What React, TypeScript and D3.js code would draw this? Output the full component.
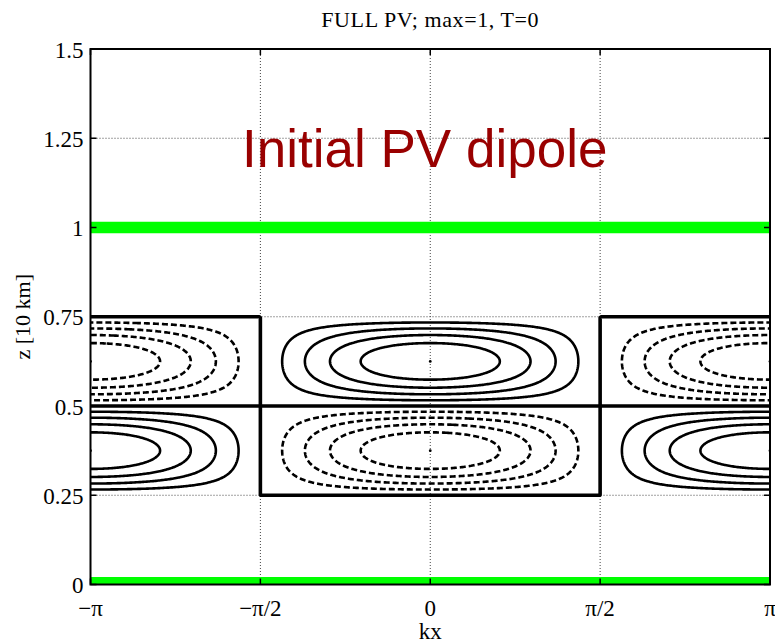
import { useMemo } from 'react';
import * as d3 from 'd3';

const width = 775,
  height = 643;
const MARGIN = { top: 49, right: 5, bottom: 58.5, left: 90.5 };

// axis ticks
const xTicks = [-Math.PI, -Math.PI / 2, 0, Math.PI / 2, Math.PI];
const xTickLabels = ['−π', '−π/2', '0', 'π/2', 'π'];
const zTicks = [0, 0.25, 0.5, 0.75, 1, 1.25, 1.5];
const zTickLabels = ['0', '0.25', '0.5', '0.75', '1', '1.25', '1.5'];

// PV anomaly: amplitude and the layer it lives in
const pvMax = 1;
const layerBottom = 0.25;
const layerTop = 0.75;
const posLevels = [0.2, 0.4, 0.6, 0.8];
const negLevels = [-0.2, -0.4, -0.6, -0.8];
const extremaKx = [-Math.PI, 0, Math.PI];
const extremaZ = [0.375, 0.625];

// green horizontal lines (ground and tropopause)
const greenLevels = [1, 0];

const annotation = { label: 'Initial PV dipole', kx: -1.74, z: 1.17 };

const pv = (kx: number, z: number) => {
  if (z <= layerBottom || z >= layerTop) return 0;
  const s = (z - (layerBottom + layerTop) / 2) / (layerTop - (layerBottom + layerTop) / 2);
  return pvMax * Math.cos(kx) * Math.sin(Math.PI * s);
};

export default function App() {
  const boundsWidth = width - MARGIN.left - MARGIN.right;
  const boundsHeight = height - MARGIN.top - MARGIN.bottom;

  const xScale = d3.scaleLinear().domain([-Math.PI, Math.PI]).range([0, boundsWidth]);
  const yScale = d3.scaleLinear().domain([0, 1.5]).range([boundsHeight, 0]);

  const paths = useMemo(() => {
    // grid a bit wider than the axes so contours leave through the clip
    const nx = 601,
      nz = 241;
    const x0 = -Math.PI - 0.4,
      x1 = Math.PI + 0.4;
    const z0 = 0.2,
      z1 = 0.8;
    const dx = (x1 - x0) / (nx - 1);
    const dz = (z1 - z0) / (nz - 1);
    const values = new Array(nx * nz);
    for (let j = 0; j < nz; j++) {
      for (let i = 0; i < nx; i++) {
        values[i + j * nx] = pv(x0 + i * dx, z0 + j * dz);
      }
    }
    const neg = values.map(v => -v);

    const proj = d3.geoTransform({
      point: function (px: number, py: number) {
        this.stream.point(xScale(x0 + (px - 0.5) * dx), yScale(z0 + (py - 0.5) * dz));
      },
    });
    const path = d3.geoPath(proj);
    const gen = d3.contours().size([nx, nz]);

    const pos = gen.thresholds(posLevels)(values).map(c => path(c));
    const negs = gen.thresholds(negLevels.map(l => -l))(neg).map(c => path(c));
    const zero = gen.thresholds([1e-6])(neg).map(c => path(c));
    return { pos, negs, zero };
  }, []);

  const serif = 'Liberation Serif, Times New Roman, serif';

  return (
    <svg width={width} height={height} style={{ position: 'absolute', left: 0, top: 0 }}>
      <rect width={width} height={height} fill="white" />
      <defs>
        <clipPath id="plotClip">
          <rect width={boundsWidth} height={boundsHeight} />
        </clipPath>
      </defs>
      <text
        x={MARGIN.left + xScale(0)}
        y={26.5}
        textAnchor="middle"
        fontFamily={serif}
        fontSize={22}
        letterSpacing={0.6}
      >
        FULL PV; max=1, T=0
      </text>
      <g transform={`translate(${MARGIN.left},${MARGIN.top})`}>
        {/* grid */}
        {xTicks.map((t, i) => (
          <line
            key={'gx' + i}
            x1={xScale(t)}
            x2={xScale(t)}
            y1={0}
            y2={boundsHeight}
            stroke="#444"
            strokeWidth={1}
            strokeDasharray="1 2"
          />
        ))}
        {zTicks.map((t, i) => (
          <line
            key={'gz' + i}
            x1={0}
            x2={boundsWidth}
            y1={yScale(t)}
            y2={yScale(t)}
            stroke="#444"
            strokeWidth={1}
            strokeDasharray="1 2"
          />
        ))}

        <g clipPath="url(#plotClip)">
          {greenLevels.map((z, i) => (
            <line
              key={'green' + i}
              x1={0}
              x2={boundsWidth}
              y1={yScale(z)}
              y2={yScale(z)}
              stroke="#00ff00"
              strokeWidth={i === 0 ? 11.5 : 15}
            />
          ))}
          {paths.pos.map((d, i) => (
            <path key={'p' + i} d={d ?? ''} fill="none" stroke="black" strokeWidth={2.6} strokeLinejoin="round" />
          ))}
          {paths.negs.map((d, i) => (
            <path
              key={'n' + i}
              d={d ?? ''}
              fill="none"
              stroke="black"
              strokeWidth={2.6}
              strokeDasharray="6 3"
            />
          ))}
          {paths.zero.map((d, i) => (
            <path key={'z' + i} d={d ?? ''} fill="none" stroke="black" strokeWidth={3.6} strokeLinejoin="round" />
          ))}
          {extremaKx.flatMap((kx, i) =>
            extremaZ.map((z, j) => (
              <circle key={`e${i}-${j}`} cx={xScale(kx)} cy={yScale(z)} r={1.4} fill="black" />
            ))
          )}
        </g>

        <text
          x={xScale(annotation.kx)}
          y={yScale(annotation.z)}
          fontFamily="Liberation Sans, Arial, sans-serif"
          fontSize={53}
          fill="#990000"
        >
          {annotation.label}
        </text>

        {/* frame and ticks */}
        <rect width={boundsWidth} height={boundsHeight} fill="none" stroke="black" strokeWidth={2} />
        {xTicks.map((t, i) => (
          <g key={'tx' + i}>
            <line x1={xScale(t)} x2={xScale(t)} y1={boundsHeight} y2={boundsHeight - 6} stroke="black" strokeWidth={1.5} />
            <line x1={xScale(t)} x2={xScale(t)} y1={0} y2={6} stroke="black" strokeWidth={1.5} />
            <text
              x={xScale(t)}
              y={boundsHeight + 31.5}
              textAnchor="middle"
              fontFamily={serif}
              fontSize={23}
            >
              {xTickLabels[i]}
            </text>
          </g>
        ))}
        {zTicks.map((t, i) => (
          <g key={'tz' + i}>
            <line x1={0} x2={6} y1={yScale(t)} y2={yScale(t)} stroke="black" strokeWidth={1.5} />
            <line x1={boundsWidth} x2={boundsWidth - 6} y1={yScale(t)} y2={yScale(t)} stroke="black" strokeWidth={1.5} />
            <text
              x={-7}
              y={yScale(t) + 8.5}
              textAnchor="end"
              fontFamily={serif}
              fontSize={23}
            >
              {zTickLabels[i]}
            </text>
          </g>
        ))}
        <text
          x={xScale(0)}
          y={boundsHeight + 54.5}
          textAnchor="middle"
          fontFamily={serif}
          fontSize={23}
        >
          kx
        </text>
        <text
          transform={`translate(${30 - MARGIN.left},${boundsHeight / 2}) rotate(-90)`}
          textAnchor="middle"
          fontFamily={serif}
          fontSize={22}
        >
          z [10 km]
        </text>
      </g>
    </svg>
  );
}
